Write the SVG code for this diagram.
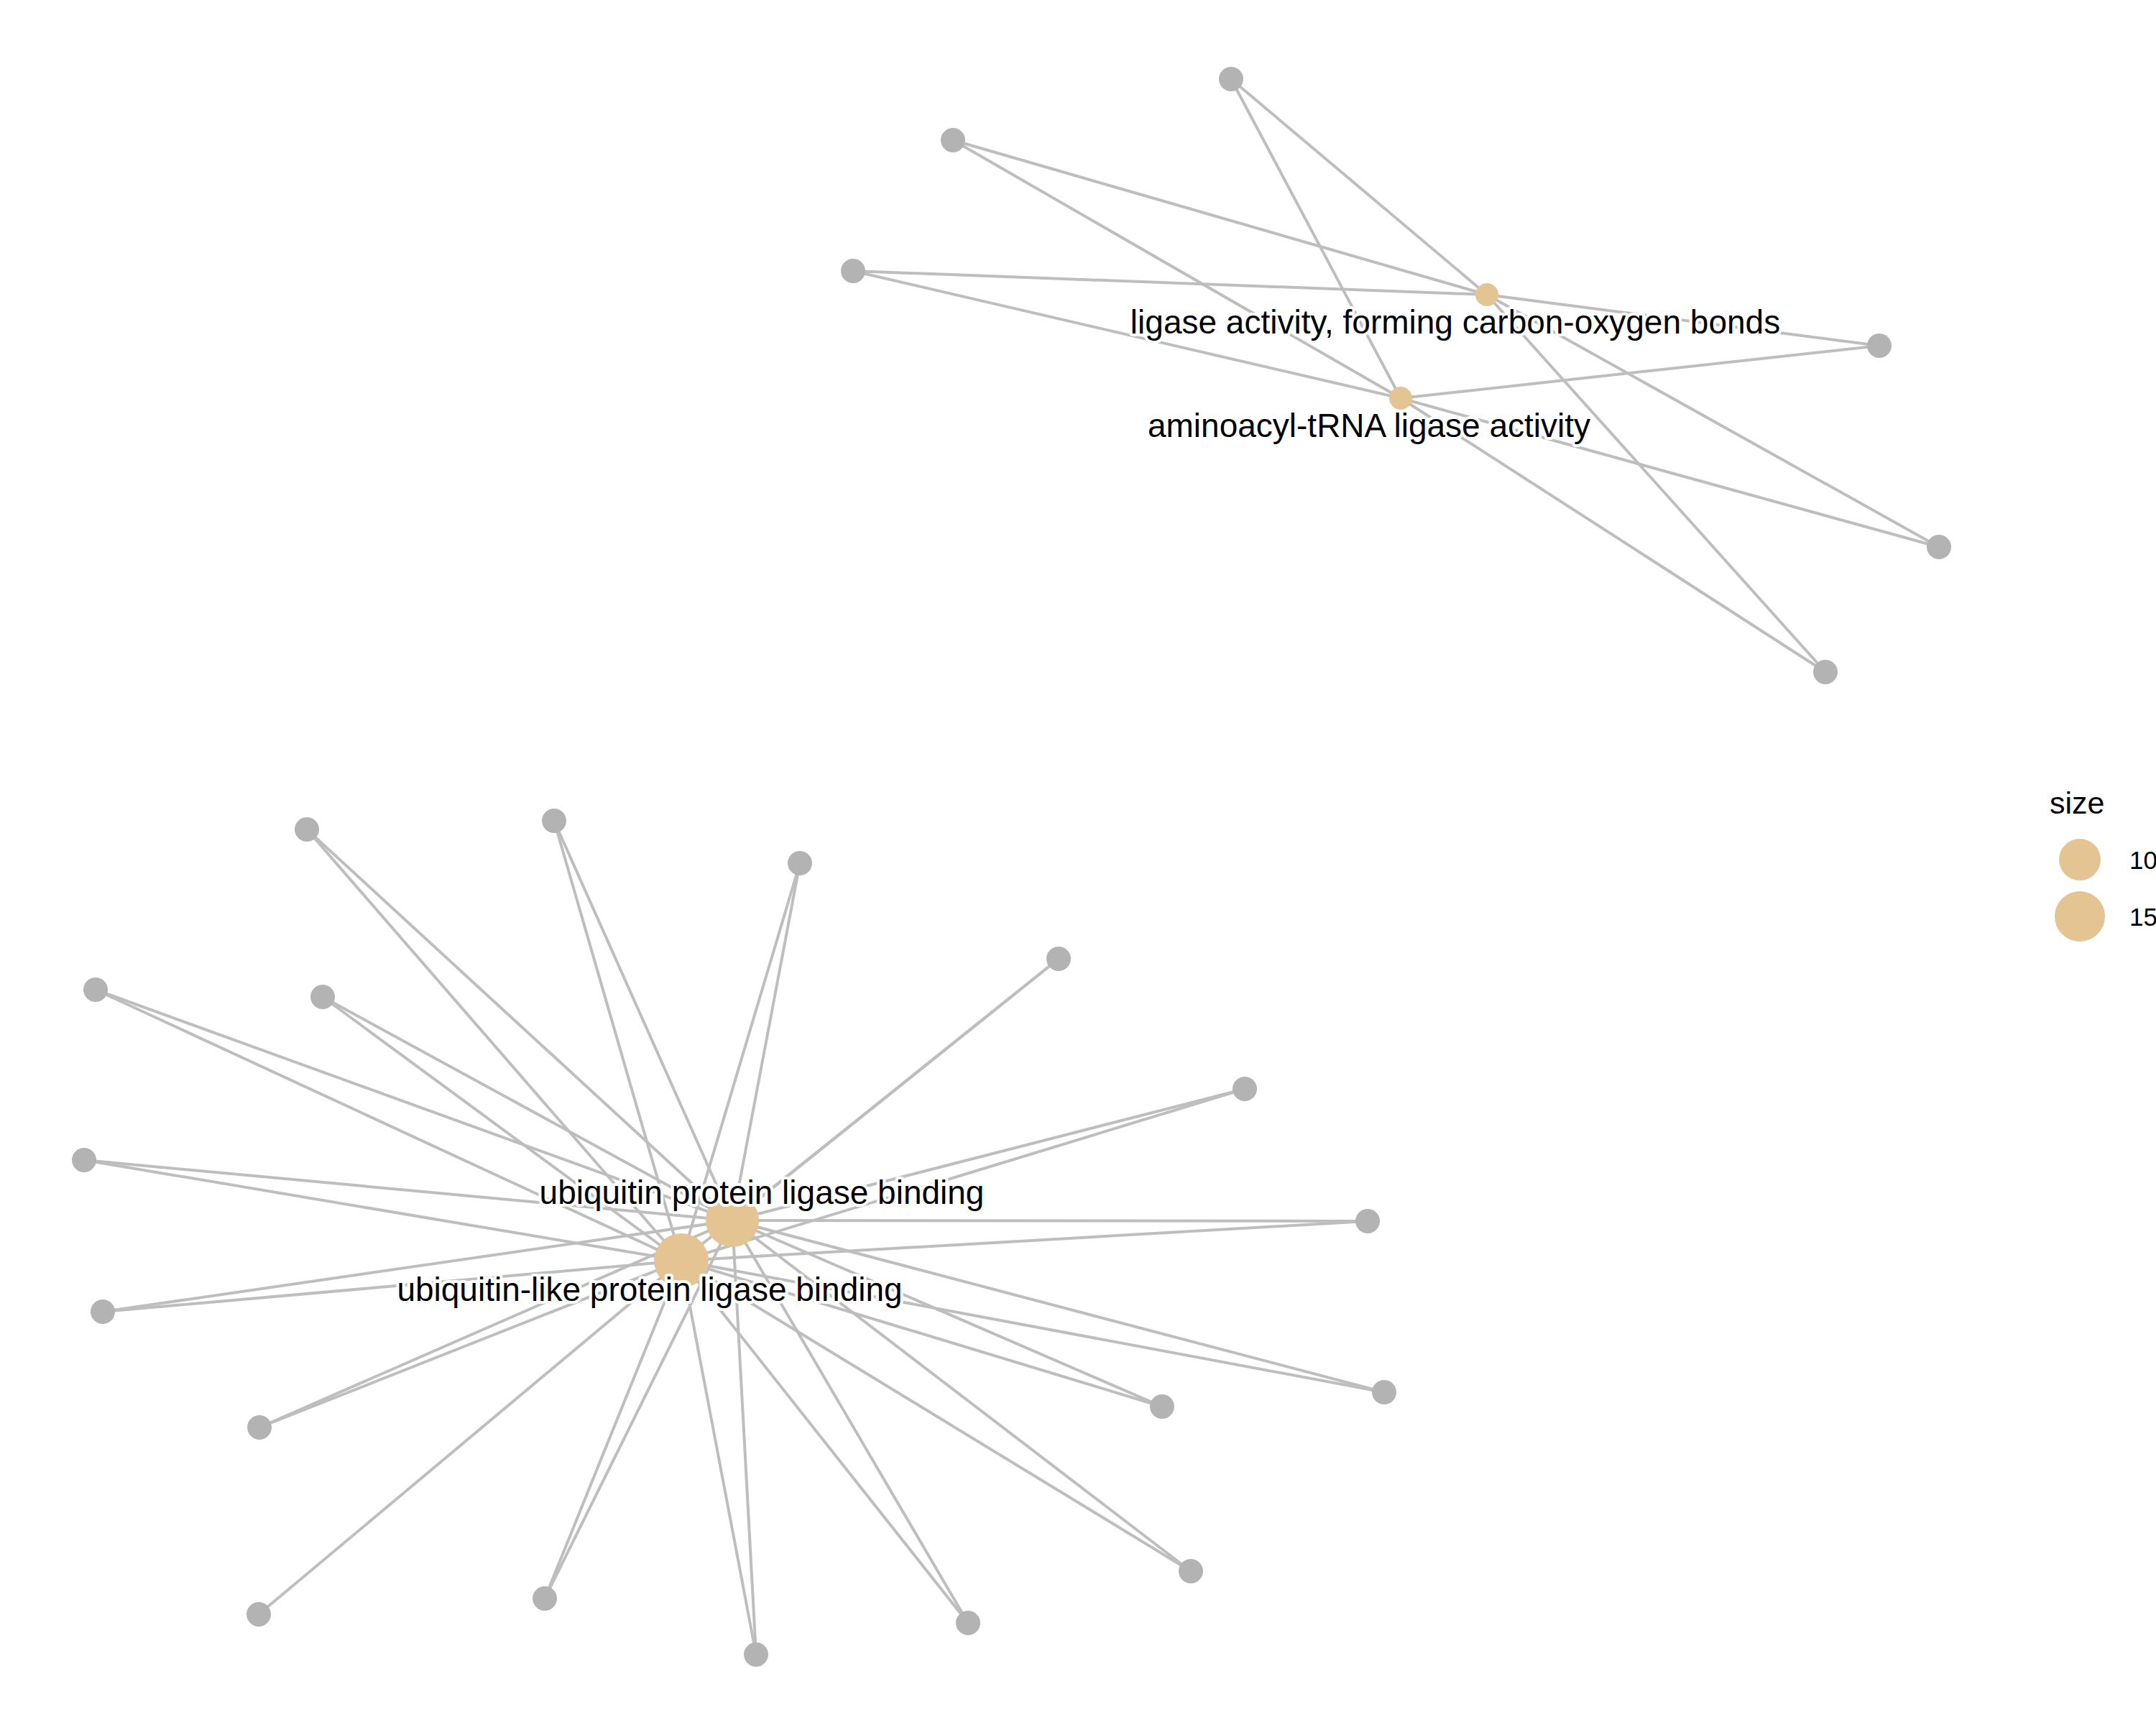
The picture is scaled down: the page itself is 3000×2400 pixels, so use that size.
<svg xmlns="http://www.w3.org/2000/svg" width="3000" height="2400" viewBox="0 0 3000 2400">
<style>
.e{stroke:#BEBEBE;stroke-width:4;fill:none}
.g{fill:#B3B3B3}
.h{fill:#E5C494}
.lab{font-family:"Liberation Sans",Arial,sans-serif;font-size:46px;fill:#000;text-anchor:middle;stroke:#fff;stroke-width:8;stroke-linejoin:round;paint-order:stroke}
.leg{font-family:"Liberation Sans",Arial,sans-serif;fill:#000}
</style>
<rect width="3000" height="2400" fill="#fff"/>
<g id="connectors">
<!-- top cluster -->
<line class="e" x1="1713" y1="110" x2="2069" y2="410"/>
<line class="e" x1="1713" y1="110" x2="1949" y2="554"/>
<line class="e" x1="1326" y1="195" x2="2069" y2="410"/>
<line class="e" x1="1326" y1="195" x2="1949" y2="554"/>
<line class="e" x1="1187" y1="377" x2="2069" y2="410"/>
<line class="e" x1="1187" y1="377" x2="1949" y2="554"/>
<line class="e" x1="2615" y1="481" x2="2069" y2="410"/>
<line class="e" x1="2615" y1="481" x2="1949" y2="554"/>
<line class="e" x1="2698" y1="761" x2="2069" y2="410"/>
<line class="e" x1="2698" y1="761" x2="1949" y2="554"/>
<line class="e" x1="2540" y1="935" x2="2069" y2="410"/>
<line class="e" x1="2540" y1="935" x2="1949" y2="554"/>
<!-- bottom cluster -->
<line class="e" x1="427" y1="1154" x2="1019" y2="1698"/>
<line class="e" x1="427" y1="1154" x2="948" y2="1754"/>
<line class="e" x1="771" y1="1142" x2="1019" y2="1698"/>
<line class="e" x1="771" y1="1142" x2="948" y2="1754"/>
<line class="e" x1="1113" y1="1201" x2="1019" y2="1698"/>
<line class="e" x1="1113" y1="1201" x2="948" y2="1754"/>
<line class="e" x1="1473" y1="1334" x2="1019" y2="1698"/>
<line class="e" x1="1473" y1="1334" x2="948" y2="1754"/>
<line class="e" x1="133" y1="1377" x2="1019" y2="1698"/>
<line class="e" x1="133" y1="1377" x2="948" y2="1754"/>
<line class="e" x1="449" y1="1387" x2="1019" y2="1698"/>
<line class="e" x1="449" y1="1387" x2="948" y2="1754"/>
<line class="e" x1="1732" y1="1515" x2="1019" y2="1698"/>
<line class="e" x1="1732" y1="1515" x2="948" y2="1754"/>
<line class="e" x1="117" y1="1614" x2="1019" y2="1698"/>
<line class="e" x1="117" y1="1614" x2="948" y2="1754"/>
<line class="e" x1="1903" y1="1699" x2="1019" y2="1698"/>
<line class="e" x1="1903" y1="1699" x2="948" y2="1754"/>
<line class="e" x1="143" y1="1825" x2="1019" y2="1698"/>
<line class="e" x1="143" y1="1825" x2="948" y2="1754"/>
<line class="e" x1="361" y1="1986" x2="1019" y2="1698"/>
<line class="e" x1="361" y1="1986" x2="948" y2="1754"/>
<line class="e" x1="1617" y1="1957" x2="1019" y2="1698"/>
<line class="e" x1="1617" y1="1957" x2="948" y2="1754"/>
<line class="e" x1="1926" y1="1937" x2="1019" y2="1698"/>
<line class="e" x1="1926" y1="1937" x2="948" y2="1754"/>
<line class="e" x1="360" y1="2246" x2="948" y2="1754"/>
<line class="e" x1="758" y1="2224" x2="1019" y2="1698"/>
<line class="e" x1="758" y1="2224" x2="948" y2="1754"/>
<line class="e" x1="1657" y1="2186" x2="1019" y2="1698"/>
<line class="e" x1="1657" y1="2186" x2="948" y2="1754"/>
<line class="e" x1="1347" y1="2258" x2="1019" y2="1698"/>
<line class="e" x1="1347" y1="2258" x2="948" y2="1754"/>
<line class="e" x1="1052" y1="2302" x2="1019" y2="1698"/>
<line class="e" x1="1052" y1="2302" x2="948" y2="1754"/>
</g>
<g id="gene-nodes">
<circle id="t1" class="g" cx="1713" cy="110" r="17"/>
<circle id="t2" class="g" cx="1326" cy="195" r="17"/>
<circle id="t3" class="g" cx="1187" cy="377" r="17"/>
<circle id="t4" class="g" cx="2615" cy="481" r="17"/>
<circle id="t5" class="g" cx="2698" cy="761" r="17"/>
<circle id="t6" class="g" cx="2540" cy="935" r="17"/>
<circle id="b1" class="g" cx="427" cy="1154" r="17"/>
<circle id="b2" class="g" cx="771" cy="1142" r="17"/>
<circle id="b3" class="g" cx="1113" cy="1201" r="17"/>
<circle id="b4" class="g" cx="1473" cy="1334" r="17"/>
<circle id="b5" class="g" cx="133" cy="1377" r="17"/>
<circle id="b6" class="g" cx="449" cy="1387" r="17"/>
<circle id="b7" class="g" cx="1732" cy="1515" r="17"/>
<circle id="b8" class="g" cx="117" cy="1614" r="17"/>
<circle id="b9" class="g" cx="1903" cy="1699" r="17"/>
<circle id="b10" class="g" cx="143" cy="1825" r="17"/>
<circle id="b11" class="g" cx="361" cy="1986" r="17"/>
<circle id="b12" class="g" cx="1617" cy="1957" r="17"/>
<circle id="b13" class="g" cx="1926" cy="1937" r="17"/>
<circle id="b14" class="g" cx="360" cy="2246" r="17"/>
<circle id="b15" class="g" cx="758" cy="2224" r="17"/>
<circle id="b16" class="g" cx="1657" cy="2186" r="17"/>
<circle id="b17" class="g" cx="1347" cy="2258" r="17"/>
<circle id="b18" class="g" cx="1052" cy="2302" r="17"/>
</g>
<g id="hub-ligase-co">
<circle class="h" cx="2069" cy="410" r="16"/>
<text class="lab" x="2025" y="464">ligase activity, forming carbon-oxygen bonds</text>
</g>
<g id="hub-aminoacyl">
<circle class="h" cx="1949" cy="554" r="16"/>
<text class="lab" x="1905" y="608">aminoacyl-tRNA ligase activity</text>
</g>
<g id="hub-ubiquitin">
<circle class="h" cx="1019" cy="1698" r="37"/>
<text class="lab" x="1060" y="1675">ubiquitin protein ligase binding</text>
</g>
<g id="hub-ubiquitin-like">
<circle class="h" cx="948" cy="1754" r="38"/>
<text class="lab" x="904" y="1810">ubiquitin-like protein ligase binding</text>
</g>
<g id="legend">
<text class="leg" x="2852" y="1132" font-size="43">size</text>
<circle class="h" cx="2894" cy="1196" r="29"/>
<circle class="h" cx="2894" cy="1275" r="35"/>
<text class="leg" x="2963" y="1209" font-size="35">10</text>
<text class="leg" x="2963" y="1288" font-size="35">15</text>
</g>
</svg>
